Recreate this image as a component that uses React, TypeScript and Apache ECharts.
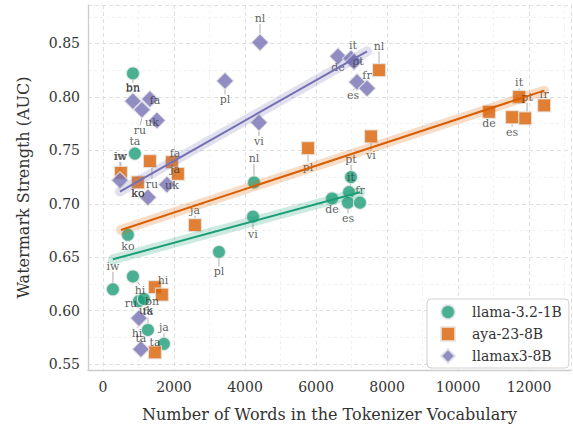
import React, { useEffect, useRef } from "react";
import * as echarts from "echarts";

// ---- data ----
const llamaLangs = ["bn","ta","ko","iw","hi","ru","uk","fa","ja","pl","nl","vi","de","pt","it","es","fr"];
const llamaX = [845,901,704,282,845,1014,1155,1268,1718,3268,4254,4225,6451,6986,6930,6901,7239];
const llamaY = [0.822,0.747,0.671,0.620,0.632,0.609,0.611,0.582,0.569,0.655,0.720,0.688,0.705,0.725,0.711,0.701,0.701];

const ayaLangs = ["nl","vi","pl","it","pt","es","fr","de","ja","hi","bn","ta","iw","ko","ru","fa","uk"];
const ayaX = [7775,7549,5775,11718,11887,11521,12423,10873,2592,1465,1662,1465,507,986,1324,1944,2113];
const ayaY = [0.825,0.763,0.752,0.800,0.780,0.781,0.792,0.786,0.680,0.622,0.615,0.561,0.729,0.720,0.740,0.739,0.728];

const maxLangs = ["nl","pl","vi","de","it","pt","es","fr","bn","fa","ru","uk","iw","ja","ko","hi","ta"];
const maxX = [4423,3437,4394,6620,6986,7070,7155,7437,845,1324,1099,1521,479,1803,1268,1014,1070];
const maxY = [0.851,0.815,0.776,0.838,0.836,0.833,0.814,0.808,0.796,0.798,0.788,0.778,0.722,0.718,0.706,0.593,0.564];

const seriesNames = ["llama-3.2-1B", "aya-23-8B", "llamax3-8B"];

// ---- label offsets (layout only) ----
const llamaLabelOff = [[0,15],[0,-12],[0,12],[0,-23],[7,14],[-8,2],[2,12],[0,-18],[0,-16],[0,20],[0,-24],[0,18],[0,11],[0,-18],[2,-15],[0,16],[0,-12]];
const ayaLabelOff = [[0,-24],[0,19],[0,19],[0,-14],[2,-21],[0,15],[0,-11],[0,12],[0,-15],[8,-7],[-10,7],[0,-10],[0,-16],[0,11],[2,23],[3,-9],[-6,12]];
const maxLabelOff = [[0,-24],[0,19],[0,19],[0,11],[2,-13],[4,0],[-4,14],[0,-13],[0,-14],[5,1],[-2,21],[-5,2],[0,-24],[8,-15],[-10,-4],[-2,15],[0,-11]];

const COLORS = ["#1b9e77", "#d95f02", "#7570b3"];
const SYMBOLS = ["circle", "rect", "diamond"];
const SIZES = [13, 13, 17];
const FONT = "DejaVu Serif";

function fitLine(xs: number[], ys: number[]) {
  const n = xs.length;
  const mx = xs.reduce((a, b) => a + b, 0) / n;
  const my = ys.reduce((a, b) => a + b, 0) / n;
  let sxy = 0, sxx = 0;
  for (let i = 0; i < n; i++) {
    sxy += (xs[i] - mx) * (ys[i] - my);
    sxx += (xs[i] - mx) * (xs[i] - mx);
  }
  const b = sxy / sxx;
  const a = my - b * mx;
  const x0 = Math.min(...xs), x1 = Math.max(...xs);
  return [[x0, a + b * x0], [x1, a + b * x1]];
}

export default function App() {
  const ref = useRef<HTMLDivElement>(null);
  useEffect(() => {
    if (!ref.current) return;
    const chart = echarts.init(ref.current, undefined, { renderer: "svg" });
    const groups = [
      { langs: llamaLangs, xs: llamaX, ys: llamaY, off: llamaLabelOff },
      { langs: ayaLangs, xs: ayaX, ys: ayaY, off: ayaLabelOff },
      { langs: maxLangs, xs: maxX, ys: maxY, off: maxLabelOff },
    ];
    const series: any[] = [];
    groups.forEach((g, k) => {
      series.push({
        name: seriesNames[k],
        type: "scatter",
        symbol: SYMBOLS[k],
        symbolSize: SIZES[k],
        z: 2,
        itemStyle: { color: COLORS[k], opacity: 0.8, borderColor: "#e6e6e6", borderWidth: 1.2 },
        data: g.xs.map((x, i) => ({ value: [x, g.ys[i]], name: g.langs[i] })),
        label: {
          show: true,
          position: "inside",
          formatter: (p: any) => p.name,
          fontFamily: FONT,
          fontSize: 11,
          color: "#333",
        },
        labelLayout: (p: any) => ({ dx: g.off[p.dataIndex][0], dy: g.off[p.dataIndex][1] }),
        labelLine: { show: true, lineStyle: { color: "#999", width: 0.8 } },
        emphasis: { disabled: true },
      });
    });
    groups.forEach((g, k) => {
      const pts = fitLine(g.xs, g.ys);
      series.push({
        type: "line",
        data: pts,
        symbol: "none",
        silent: true,
        z: 3,
        lineStyle: { color: COLORS[k], width: 10, opacity: 0.22, cap: "round" },
      });
      series.push({
        type: "line",
        data: pts,
        symbol: "none",
        silent: true,
        z: 4,
        lineStyle: { color: COLORS[k], width: 2 },
      });
    });

    const gridMajor = { show: true, lineStyle: { color: "#e0e0e0", type: [4, 3], width: 1 } };
    const gridMinor = { show: true, lineStyle: { color: "#eeeeee", type: [3, 3], width: 0.8 } };

    chart.setOption({
      animation: false,
      backgroundColor: "#fff",
      grid: { left: 88, right: 2, top: 5, bottom: 57, containLabel: false },
      xAxis: {
        type: "value",
        min: -420,
        max: 13180,
        splitNumber: 6,
        name: "Number of Words in the Tokenizer Vocabulary",
        nameLocation: "middle",
        nameGap: 36,
        nameTextStyle: { fontFamily: FONT, fontSize: 16, color: "#333" },
        axisLine: { show: true, onZero: false, lineStyle: { color: "#cccccc", width: 1.3 } },
        axisTick: { show: false },
        axisLabel: { showMinLabel: false, showMaxLabel: false, margin: 10, fontFamily: FONT, fontSize: 14, color: "#333", formatter: (v: number) => String(v) },
        splitLine: gridMajor,
        minorTick: { show: false, splitNumber: 2 },
        minorSplitLine: gridMinor,
      },
      yAxis: {
        type: "value",
        min: 0.5445,
        max: 0.886,
        splitNumber: 7,
        name: "Watermark Strength (AUC)",
        nameLocation: "middle",
        nameGap: 57,
        nameTextStyle: { fontFamily: FONT, fontSize: 16, color: "#333" },
        axisLine: { show: true, onZero: false, lineStyle: { color: "#cccccc", width: 1.3 } },
        axisTick: { show: false },
        axisLabel: { showMinLabel: false, showMaxLabel: false, margin: 8, fontFamily: FONT, fontSize: 14, color: "#333", formatter: (v: number) => v.toFixed(2) },
        splitLine: gridMajor,
        minorTick: { show: false, splitNumber: 2 },
        minorSplitLine: gridMinor,
      },
      legend: {
        orient: "vertical",
        left: 427,
        top: 299,
        backgroundColor: "#fff",
        borderColor: "#d0d0d0",
        borderWidth: 1,
        borderRadius: 4,
        padding: [5, 7, 4, 13],
        itemGap: 6,
        itemWidth: 14,
        itemHeight: 14,
        textStyle: { fontFamily: FONT, fontSize: 14, lineHeight: 14, color: "#333", padding: [0, 0, 0, 12] },
        data: seriesNames.map((n, k) => ({ name: n, icon: SYMBOLS[k] })),
      },
      series,
    });
    return () => chart.dispose();
  }, []);
  return <div ref={ref} style={{ position: "fixed", left: 0, top: 0, width: 573, height: 427 }} />;
}
